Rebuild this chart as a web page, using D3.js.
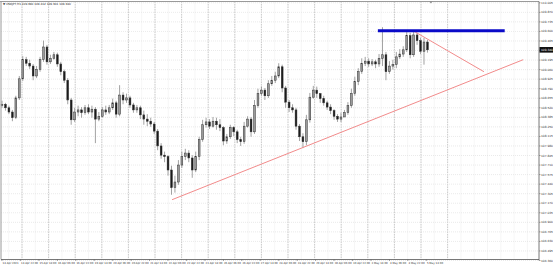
<!DOCTYPE html>
<html>
<head>
<meta charset="utf-8">
<script src="https://d3js.org/d3.v7.min.js"></script>
<style>
html, body { margin: 0; padding: 0; background: #fff; overflow: hidden; }
svg { display: block; font-family: "DejaVu Sans", Arial, sans-serif; }
</style>
</head>
<body>
<div class="chart"></div>
<script>
const width = 553
const height = 267

const symbolTitle = '\u25BC USDJPY,H1  109.390 109.412 109.301 109.340'

// bottom time labels, one every 16 hourly bars
const timeLabels = ['14 Apr 2021','14 Apr 22:00','15 Apr 14:00','16 Apr 06:00','16 Apr 22:00','19 Apr 14:00',
    '20 Apr 06:00','20 Apr 22:00','21 Apr 14:00','22 Apr 06:00','22 Apr 22:00','23 Apr 14:00',
    '26 Apr 06:00','26 Apr 22:00','27 Apr 14:00','28 Apr 06:00','28 Apr 22:00','29 Apr 14:00',
    '30 Apr 06:00','30 Apr 22:00','3 May 14:00','4 May 06:00','4 May 22:00','5 May 14:00']

const priceTicks = [106.360,106.495,106.630,106.765,106.900,107.035,107.170,107.305,107.440,107.575,
    107.710,107.845,107.980,108.115,108.250,108.385,108.520,108.655,108.790,108.925,
    109.060,109.195,109.330,109.465,109.600,109.735,109.870,110.005]

// candles (3 hour steps)
const opens = [108.55,108.57,108.52,108.46,108.38,108.66,108.93,109.20,109.15,109.11,
    108.97,109.06,109.20,109.38,109.17,109.22,109.27,109.14,109.03,108.91,
    108.63,108.35,108.46,108.49,108.45,108.52,108.46,108.50,108.36,108.40,
    108.49,108.46,108.52,108.59,108.43,108.70,108.63,108.66,108.56,108.49,
    108.52,108.42,108.36,108.33,108.29,108.19,107.98,107.85,107.83,107.64,
    107.39,107.47,107.71,107.83,107.88,107.81,107.64,107.83,108.07,108.28,
    108.32,108.26,108.33,108.28,108.24,108.05,108.11,108.24,108.18,108.07,
    108.04,108.26,108.36,108.18,108.55,108.72,108.77,108.69,108.86,108.91,
    108.97,109.10,108.80,108.60,108.52,108.49,108.26,108.11,108.04,108.35,
    108.67,108.77,108.72,108.65,108.59,108.53,108.48,108.40,108.36,108.39,
    108.45,108.55,108.72,108.89,109.03,109.15,109.18,109.14,109.17,109.14,
    109.22,109.27,109.03,109.11,109.13,109.24,109.28,109.34,109.54,109.27,
    109.55,109.47,109.32,109.45]
const highs = [108.62,108.59,108.55,108.49,108.69,108.97,109.25,109.24,109.20,109.14,
    109.11,109.24,109.47,109.41,109.27,109.31,109.30,109.17,109.06,108.94,
    108.66,108.52,108.55,108.53,108.56,108.57,108.55,108.53,108.46,108.53,
    108.55,108.56,108.65,108.62,108.84,108.74,108.72,108.69,108.59,108.56,
    108.55,108.48,108.43,108.38,108.32,108.22,108.02,107.90,107.85,107.70,
    107.56,107.78,107.90,107.94,107.92,107.85,107.90,108.11,108.35,108.38,
    108.36,108.39,108.38,108.36,108.26,108.15,108.28,108.26,108.21,108.11,
    108.32,108.40,108.39,108.63,108.79,108.82,108.80,108.91,108.97,109.03,
    109.15,109.13,108.83,108.63,108.57,108.52,108.29,108.16,108.42,108.73,
    108.83,108.82,108.73,108.69,108.62,108.57,108.50,108.43,108.45,108.49,
    108.60,108.79,108.96,109.08,109.22,109.24,109.22,109.21,109.20,109.28,
    109.66,109.31,109.18,109.20,109.31,109.35,109.39,109.59,109.58,109.61,
    109.58,109.51,109.51,109.48]
const lows = [108.52,108.48,108.43,108.33,108.36,108.63,108.90,109.11,109.07,108.91,
    108.94,109.03,109.17,109.13,109.14,109.20,109.10,108.98,108.87,108.57,
    108.28,108.32,108.40,108.38,108.42,108.43,108.38,108.02,108.33,108.38,
    108.42,108.43,108.49,108.38,108.40,108.57,108.59,108.52,108.45,108.45,
    108.36,108.28,108.26,108.25,108.15,107.92,107.80,107.75,107.56,107.29,
    107.32,107.43,107.67,107.78,107.75,107.53,107.61,107.78,108.04,108.24,
    108.22,108.24,108.21,108.19,107.99,108.01,108.08,108.12,108.02,107.98,
    108.01,108.24,108.11,108.15,108.52,108.69,108.63,108.66,108.83,108.87,
    108.94,108.74,108.52,108.46,108.45,108.21,108.05,107.95,107.99,108.31,
    108.65,108.66,108.59,108.55,108.49,108.43,108.35,108.32,108.32,108.39,
    108.42,108.52,108.69,108.84,109.00,109.11,109.10,109.11,109.08,109.10,
    109.11,108.91,109.00,109.06,109.08,109.21,109.24,109.31,109.22,109.24,
    109.41,109.28,109.13,109.30]
const closes = [108.57,108.52,108.46,108.38,108.66,108.93,109.20,109.15,109.11,108.97,
    109.06,109.20,109.38,109.17,109.22,109.27,109.14,109.03,108.91,108.63,
    108.35,108.46,108.49,108.45,108.52,108.46,108.50,108.36,108.40,108.49,
    108.46,108.52,108.59,108.43,108.70,108.63,108.66,108.56,108.49,108.52,
    108.42,108.36,108.33,108.29,108.19,107.98,107.85,107.83,107.64,107.39,
    107.47,107.71,107.83,107.88,107.81,107.64,107.83,108.07,108.28,108.32,
    108.26,108.33,108.28,108.24,108.05,108.11,108.24,108.18,108.07,108.04,
    108.26,108.36,108.18,108.55,108.72,108.77,108.69,108.86,108.91,108.97,
    109.10,108.80,108.60,108.52,108.49,108.26,108.11,108.04,108.35,108.67,
    108.77,108.72,108.65,108.59,108.53,108.48,108.40,108.36,108.39,108.45,
    108.55,108.72,108.89,109.03,109.15,109.18,109.14,109.17,109.14,109.22,
    109.27,109.03,109.11,109.13,109.24,109.28,109.34,109.54,109.27,109.55,
    109.47,109.32,109.45,109.34]

const lastPrice = 109.34

// drawn objects: [hour, price]
const resistanceLine = [[326, 109.61], [436, 109.61]]
const trendUp = [[147.5, 107.22], [452, 109.20]]
const trendDown = [[356.5, 109.61], [418, 109.03]]


const plotLeft = 1, plotRight = 539, plotTop = 1.5, plotBottom = 259.5

const x = d3.scaleLinear().domain([0, 466]).range([2, 539.3])
const y = d3.scaleLinear().domain([106.36, 110.005]).range([260.5, 2.8])

const svg = d3.select('.chart')
    .append('svg')
        .attr('width', width)
        .attr('height', height)

svg.append('rect').attr('width', width).attr('height', height).attr('fill', '#fff')

const g = svg.append('g')

// light vertical grid
const lightGrid = d3.range(8.7, plotRight, 13.3)
g.selectAll('.vlight')
    .data(lightGrid)
    .join('line')
        .attr('x1', d => d).attr('x2', d => d)
        .attr('y1', plotTop).attr('y2', plotBottom)
        .attr('stroke', '#e3e3e3')
        .attr('stroke-width', 0.6)
        .attr('stroke-dasharray', '1,1')

// darker vertical grid
const darkGrid = d3.range(22, 448, 26.6)
g.selectAll('.vdark')
    .data(darkGrid)
    .join('line')
        .attr('x1', d => d).attr('x2', d => d)
        .attr('y1', plotTop).attr('y2', plotBottom)
        .attr('stroke', '#b8b8b8')
        .attr('stroke-width', 0.7)
        .attr('stroke-dasharray', '1.5,1')

// horizontal grid
g.selectAll('.hgrid')
    .data(priceTicks)
    .join('line')
        .attr('x1', plotLeft).attr('x2', plotRight)
        .attr('y1', d => y(d)).attr('y2', d => y(d))
        .attr('stroke', '#dcdcdc')
        .attr('stroke-width', 0.6)
        .attr('stroke-dasharray', '1,1')

// candles
const bars = closes.map((c, i) => ({hour: i * 3, o: opens[i], h: highs[i], l: lows[i], c: c}))

g.selectAll('.wick')
    .data(bars)
    .join('line')
        .attr('x1', d => x(d.hour)).attr('x2', d => x(d.hour))
        .attr('y1', d => y(d.h)).attr('y2', d => y(d.l))
        .attr('stroke', '#8a8a8a')
        .attr('stroke-width', 0.8)

g.selectAll('.body')
    .data(bars)
    .join('rect')
        .attr('x', d => x(d.hour) - 0.9)
        .attr('width', 1.8)
        .attr('y', d => y(Math.max(d.o, d.c)))
        .attr('height', d => Math.max(0.6, Math.abs(y(d.o) - y(d.c))))
        .attr('fill', d => d.c >= d.o ? '#9a9a9a' : '#1a1a1a')
        .attr('stroke', '#333')
        .attr('stroke-width', 0.5)

// drawn lines
const line = d3.line().x(d => x(d[0])).y(d => y(d[1]))

g.append('path')
    .attr('d', line(trendUp))
    .attr('stroke', '#f28b8b')
    .attr('stroke-width', 1)
    .attr('fill', 'none')

g.append('path')
    .attr('d', line(trendDown))
    .attr('stroke', '#f28b8b')
    .attr('stroke-width', 1)
    .attr('fill', 'none')

g.append('path')
    .attr('d', line(resistanceLine))
    .attr('stroke', '#0a0ac8')
    .attr('stroke-width', 3)
    .attr('fill', 'none')

// frame
g.append('line').attr('x1', 0).attr('x2', plotRight).attr('y1', plotTop).attr('y2', plotTop)
    .attr('stroke', '#9a9a9a').attr('stroke-width', 1)
g.append('line').attr('x1', plotLeft).attr('x2', plotLeft).attr('y1', plotTop).attr('y2', plotBottom)
    .attr('stroke', '#9a9a9a').attr('stroke-width', 1)
g.append('line').attr('x1', plotRight).attr('x2', plotRight).attr('y1', plotTop).attr('y2', plotBottom + 1)
    .attr('stroke', '#555').attr('stroke-width', 0.8)
g.append('line').attr('x1', plotLeft).attr('x2', plotRight).attr('y1', plotBottom).attr('y2', plotBottom)
    .attr('stroke', '#555').attr('stroke-width', 0.8)

// chart shift marker
g.append('path')
    .attr('d', `M${x(372)-1.5},${plotTop} L${x(372)+1.5},${plotTop} L${x(372)},${plotTop+2} Z`)
    .attr('fill', '#888')

// price axis
const yAxis = svg.append('g')
yAxis.selectAll('.ytick')
    .data(priceTicks)
    .join('line')
        .attr('x1', plotRight).attr('x2', plotRight + 1.5)
        .attr('y1', d => y(d)).attr('y2', d => y(d))
        .attr('stroke', '#555').attr('stroke-width', 0.5)
yAxis.selectAll('.ylabel')
    .data(priceTicks)
    .join('text')
        .attr('x', plotRight + 2)
        .attr('y', d => y(d))
        .attr('dy', '0.35em')
        .attr('font-size', 2.9)
        .attr('fill', '#333')
        .text(d => d3.format('.3f')(d))

// current price box
const lp = y(lastPrice)
yAxis.append('rect')
    .attr('x', plotRight + 0.5).attr('y', lp - 2.8)
    .attr('width', 14).attr('height', 5.6)
    .attr('fill', '#111')
yAxis.append('text')
    .attr('x', plotRight + 2).attr('y', lp)
    .attr('dy', '0.35em')
    .attr('font-size', 2.9)
    .attr('fill', '#fff')
    .text(d3.format('.3f')(lastPrice))

// time axis
const xAxis = svg.append('g')
xAxis.selectAll('.xtick')
    .data(timeLabels)
    .join('line')
        .attr('x1', (d, i) => x(i * 16)).attr('x2', (d, i) => x(i * 16))
        .attr('y1', plotBottom).attr('y2', plotBottom + 1.5)
        .attr('stroke', '#555').attr('stroke-width', 0.5)
xAxis.selectAll('.xlabel')
    .data(timeLabels)
    .join('text')
        .attr('x', (d, i) => x(i * 16) + 0.6)
        .attr('y', 263.8)
        .attr('font-size', 2.6)
        .attr('fill', '#333')
        .text(d => d)

// title
svg.append('text')
    .attr('x', 3).attr('y', 5)
    .attr('font-size', 2.8)
    .attr('fill', '#222')
    .text(symbolTitle)
</script>
</body>
</html>
